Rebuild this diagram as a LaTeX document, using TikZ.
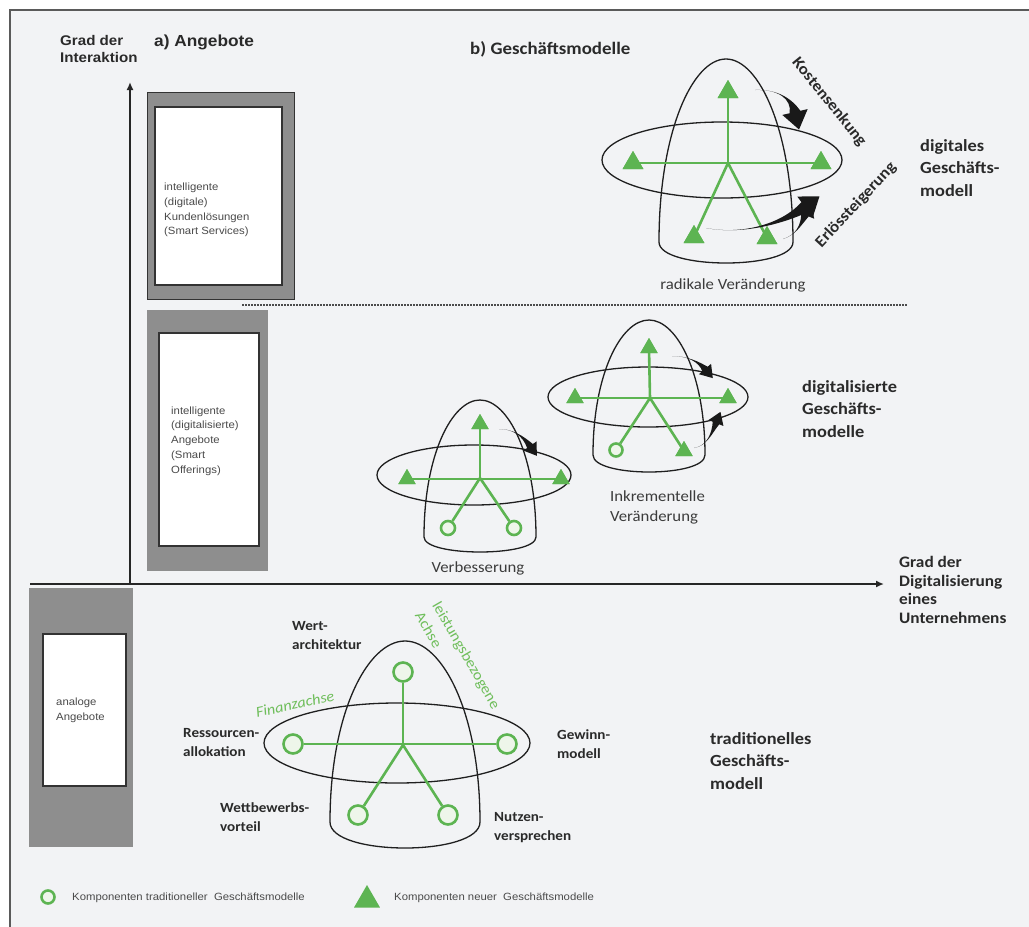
\documentclass[tikz,border=0pt]{standalone}
\usepackage{fontspec}
\setmainfont[FakeStretch=1.08]{Carlito}
\newfontfamily\arialf[FakeStretch=1.08]{Liberation Sans}
\usetikzlibrary{shapes.geometric,arrows.meta,calc}
\definecolor{bgc}{HTML}{F2F3F5}
\definecolor{grn}{HTML}{5DB452}
\definecolor{grntxt}{HTML}{6FBE5B}
\definecolor{boxgray}{HTML}{8E8E8E}
\definecolor{txt}{HTML}{2A2A2A}
\definecolor{softtxt}{HTML}{3C3C3C}
\definecolor{boxtxtc}{HTML}{4A4A4A}
\definecolor{ringfill}{HTML}{EEF6EA}
\definecolor{framec}{HTML}{5A5A5A}
\newcommand\domeshape[5]{%
  \draw[domeline] ({#1-#3},#4) .. controls ({#1-#3},{#4-0.6*(#4-#2)}) and ({#1-0.5*#3},#2) .. (#1,#2)
    .. controls ({#1+0.5*#3},#2) and ({#1+#3},{#4-0.6*(#4-#2)}) .. ({#1+#3},#4)
    .. controls ({#1+#3},{#5+(#5-#4)/3}) and ({#1-#3},{#5+(#5-#4)/3}) .. cycle;}
\newcommand\fatarrow[7]{%
  \fill[black!90] (#1) .. controls (#2) and (#3) .. ($(#4)!#5!90:(#3)$)
    -- ($(#4)!#6!90:(#3)$) -- ($(#4)!#7!(#3)$) -- ($(#4)!#6!-90:(#3)$)
    -- ($(#4)!#5!-90:(#3)$) .. controls (#3) and (#2) .. (#1) -- cycle;}
\begin{document}
\begin{tikzpicture}[x=1pt,y=-1pt,
  lbl/.style={font=\bfseries\fontsize{14}{19}\selectfont, text=txt, align=left, anchor=west, inner sep=0},
  cat/.style={font=\bfseries\fontsize{17}{22.5}\selectfont, text=txt, align=left, anchor=west, inner sep=0},
  boxtxt/.style={font=\arialf\fontsize{10.5}{14.8}\selectfont, text=boxtxtc, align=left, anchor=west, inner sep=0},
  captxt/.style={font=\fontsize{15.5}{20}\selectfont, text=softtxt, inner sep=0},
  domeline/.style={draw=black!88, line width=1.3},
  ell/.style={draw=black!88, line width=1.3},
  gl/.style={draw=grn, line width=2.6},
  oldc/.style={circle, draw=grn, line width=2.6, fill=ringfill, minimum size=#1, inner sep=0},
  newc/.style={regular polygon, regular polygon sides=3, fill=grn, draw=none, minimum size=#1, inner sep=0},
  graybox/.style={fill=boxgray},
  whitebox/.style={fill=white, draw=black!80, line width=1.2},
  axis/.style={draw=black!85, line width=1.6, -{Latex[length=8pt,width=7pt]}},
  gtxt/.style={text=grntxt, inner sep=0}]
\useasboundingbox (0,0) rectangle (1029,927);
\fill[white] (0,0) rectangle (1029,927);
\fill[bgc] (10,10) rectangle (1029,927);
\draw[framec, line width=2] (10,927) -- (10,10) -- (1029,10);

% titles
\node[font=\arialf\bfseries\fontsize{14}{16.5}\selectfont, text=txt, align=left, anchor=west, inner sep=0] (gi) at (60,49) {Grad der\\Interaktion};
\node[font=\arialf\bfseries\fontsize{16}{19}\selectfont, text=txt, anchor=west, inner sep=0] (ta) at (154,42) {a) Angebote};
\node[font=\bfseries\fontsize{17.5}{20}\selectfont, text=txt, anchor=west, inner sep=0] (tb) at (470,49) {b) Geschäftsmodelle};

% offering boxes
\fill[graybox, draw=black!80, line width=1] (147,92) rectangle (294,299);
\draw[whitebox] (155,107) rectangle (282,285);
\node[boxtxt] (ss) at (164,210) {intelligente\\(digitale)\\Kundenlösungen\\(Smart Services)};
\fill[graybox] (147,310) rectangle (268,571);
\draw[whitebox] (159,333) rectangle (259,546);
\node[boxtxt] (so) at (171,441) {intelligente\\(digitalisierte)\\Angebote\\(Smart\\Offerings)};
\fill[graybox] (29,588) rectangle (133,847);
\draw[whitebox] (43,634) rectangle (126,786);
\node[boxtxt] (an) at (56,710) {analoge\\Angebote};

% axes
\coordinate (o) at (130,584);
\coordinate (ytip) at (130,82);
\coordinate (xl) at (30,584);
\coordinate (xtip) at (884,584);
\draw[axis] (o) -- (ytip);
\draw[axis] (xl) -- (xtip);
\draw[black!85, line width=2.6] (313,584) -- (363,584);
\coordinate (dl) at (242,305);
\coordinate (dr) at (907,305);
\draw[black!70, line width=1.3, dash pattern=on 1.5pt off 1.5pt] (dl) -- (dr);
\node[cat, font=\bfseries\fontsize{16}{18.5}\selectfont] (gd) at (899,590) {Grad der\\Digitalisierung\\eines\\Unternehmens};

% ---------- digital model ----------
\domeshape{726}{59}{67}{242}{263}
\draw[ell] (722,160) ellipse [x radius=120, y radius=38];
\coordinate (D) at (728,163);
\node[newc=24] (Dt) at (728,92) {};
\node[newc=24] (Dl) at (633,163) {};
\node[newc=24] (Dr) at (821,163) {};
\node[newc=24] (Dbl) at (694,237) {};
\node[newc=24] (Dbr) at (767,238) {};
\draw[gl] (Dl.center) -- (Dr.center);
\draw[gl] (D) -- (Dt.center);
\draw[gl] (D) -- (Dbl.center);
\draw[gl] (D) -- (Dbr.center);
\foreach \n in {Dt,Dl,Dr,Dbl,Dbr} \node[newc=24] at (\n) {};
\coordinate (k1) at (755,90); \coordinate (k2) at (778,89); \coordinate (k3) at (792,99); \coordinate (k4) at (795,112);
\fatarrow{k1}{k2}{k3}{k4}{5.5pt}{13pt}{-18pt}
\coordinate (e1) at (706,228); \coordinate (e2) at (742,235); \coordinate (e3) at (782,224); \coordinate (e4) at (805,207);
\fatarrow{e1}{e2}{e3}{e4}{6pt}{13pt}{-18pt}
\coordinate (f1) at (783,239); \coordinate (f2) at (796,235); \coordinate (f3) at (801,225); \coordinate (f4) at (805,215);
\fatarrow{f1}{f2}{f3}{f4}{4pt}{10pt}{-14pt}
\node[font=\bfseries\fontsize{16}{19}\selectfont, text=txt, inner sep=0, rotate=-51] (ks) at (829,102) {Kostensenkung};
\node[font=\bfseries\fontsize{16}{19}\selectfont, text=txt, inner sep=0, rotate=47] (es) at (856,205) {Erlössteigerung};
\node[captxt] (rv) at (733,285) {radikale Veränderung};
\node[cat] (dg) at (920,168) {digitales\\Geschäfts-\\modell};

% ---------- Verbesserung ----------
\domeshape{480}{400}{56}{537}{552}
\draw[ell] (474,475) ellipse [x radius=97, y radius=30];
\coordinate (V) at (480,478);
\node[newc=20] (Vt) at (480,424) {};
\node[newc=20] (Vl) at (407,479) {};
\node[newc=20] (Vr) at (561,479) {};
\node[oldc=14] (Vbl) at (448,528) {};
\node[oldc=14] (Vbr) at (514,528) {};
\draw[gl] (Vl.center) -- (Vr.center);
\draw[gl] (V) -- (Vt.center);
\draw[gl] (V) -- (Vbl);
\draw[gl] (V) -- (Vbr);
\foreach \n in {Vt,Vl,Vr} \node[newc=20] at (\n) {};
\coordinate (v1) at (499,429); \coordinate (v2) at (513,429); \coordinate (v3) at (523,436); \coordinate (v4) at (530,446);
\fatarrow{v1}{v2}{v3}{v4}{3.5pt}{8pt}{-12pt}
\node[captxt] (vb) at (478,568) {Verbesserung};

% ---------- Inkrementelle ----------
\domeshape{649}{320}{56}{455}{472}
\draw[ell] (648,397) ellipse [x radius=100, y radius=30];
\coordinate (I) at (650,398);
\node[newc=20] (It) at (649,348) {};
\node[newc=20] (Il) at (575,398) {};
\node[newc=20] (Ir) at (728,398) {};
\node[oldc=13] (Ibl) at (616,450) {};
\node[newc=20] (Ibr) at (684,451) {};
\draw[gl] (Il.center) -- (Ir.center);
\draw[gl] (I) -- (It.center);
\draw[gl] (I) -- (Ibl);
\draw[gl] (I) -- (Ibr.center);
\foreach \n in {It,Il,Ir,Ibr} \node[newc=20] at (\n) {};
\coordinate (i1) at (672,356); \coordinate (i2) at (688,356); \coordinate (i3) at (699,362); \coordinate (i4) at (705,369);
\fatarrow{i1}{i2}{i3}{i4}{3.5pt}{8pt}{-12pt}
\coordinate (j1) at (694,448); \coordinate (j2) at (707,446); \coordinate (j3) at (712,433); \coordinate (j4) at (716,423);
\fatarrow{j1}{j2}{j3}{j4}{3.5pt}{8pt}{-12pt}
\node[captxt, align=left, anchor=west] (iv) at (610,507) {Inkrementelle\\Veränderung};
\node[cat] (dm) at (802,409) {digitalisierte\\Geschäfts-\\modelle};

% ---------- traditional ----------
\domeshape{405}{641}{75}{822}{848}
\draw[ell] (397,743) ellipse [x radius=133, y radius=40];
\coordinate (T) at (403,745);
\node[oldc=19] (Tt) at (403,672) {};
\node[oldc=19] (Tl) at (293,744) {};
\node[oldc=19] (Tr) at (507,744) {};
\node[oldc=19] (Tbl) at (358,815) {};
\node[oldc=19] (Tbr) at (448,815) {};
\draw[gl] (Tl) -- (Tr);
\draw[gl] (T) -- (Tt);
\draw[gl] (T) -- (Tbl);
\draw[gl] (T) -- (Tbr);
\node[lbl] (wa) at (292,636) {Wert-\\architektur};
\node[lbl] (ra) at (183,743) {Ressourcen-\\allokation};
\node[lbl] (wv) at (220,817) {Wettbewerbs-\\vorteil};
\node[lbl] (gm) at (557,744) {Gewinn-\\modell};
\node[lbl] (nv) at (494,828) {Nutzen-\\versprechen};
\node[gtxt, font=\itshape\fontsize{15}{18}\selectfont, rotate=12] (fa) at (295,704) {Finanzachse};
\node[gtxt, font=\fontsize{15}{20}\selectfont, rotate=-60, align=left] (la) at (458,660) {leistungsbezogene\\Achse};
\node[cat] (tg) at (710,761) {traditionelles\\Geschäfts-\\modell};

% ---------- legend ----------
\node[oldc=13] (lc) at (48,897) {};
\node[font=\arialf\fontsize{10.5}{13}\selectfont, text=boxtxtc, anchor=west, inner sep=0] (lct) at (72,898) {Komponenten traditioneller~ Geschäftsmodelle};
\node[newc=30] (lt) at (367,900) {};
\node[font=\arialf\fontsize{10.5}{13}\selectfont, text=boxtxtc, anchor=west, inner sep=0] (ltt) at (394,898) {Komponenten neuer~ Geschäftsmodelle};
\end{tikzpicture}
\end{document}
